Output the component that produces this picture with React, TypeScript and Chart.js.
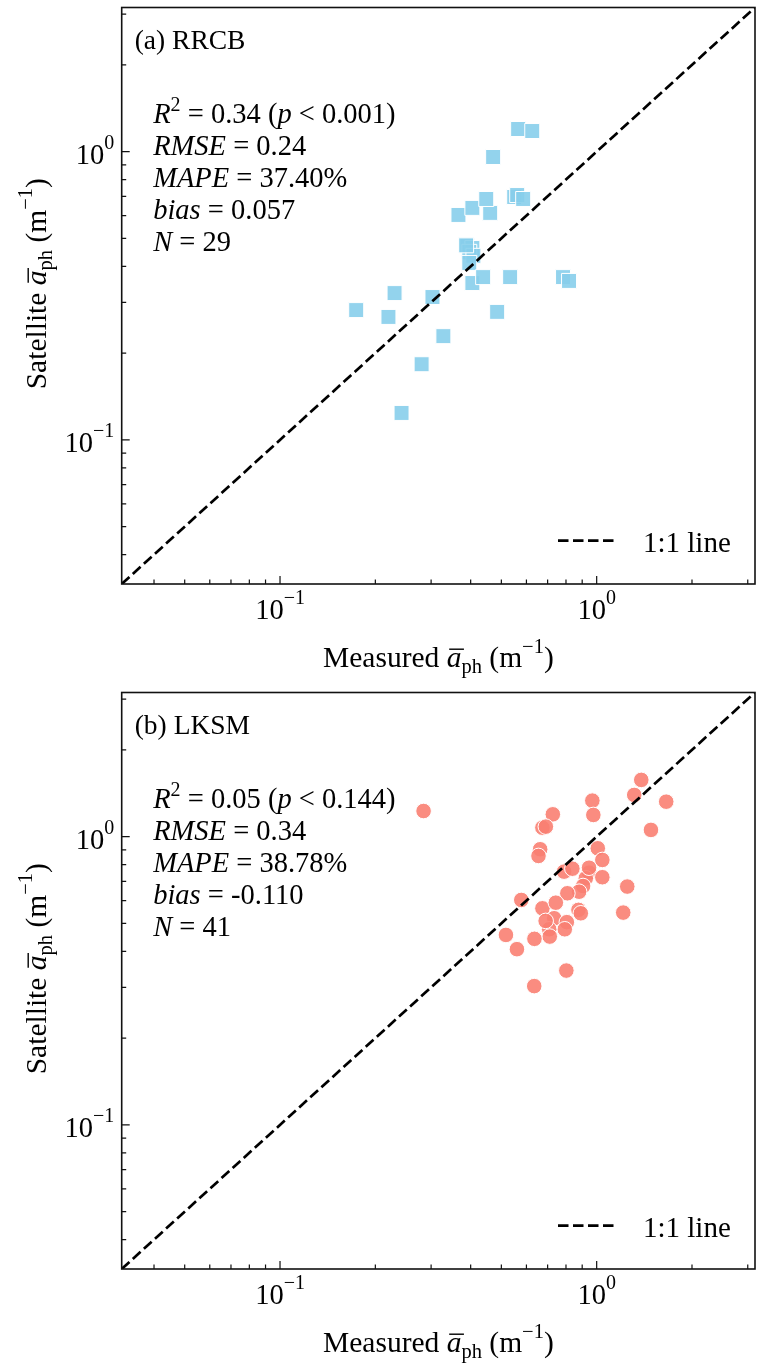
import React, { useEffect, useRef } from 'react';
import { Chart, registerables } from 'chart.js';

Chart.register(...registerables);

// ---------- data ----------
const AXIS_MIN = 0.0316228; // 10^-1.5
const AXIS_MAX = 3.16228; // 10^0.5

const MAJOR_TICKS = [0.1, 1];
const MAJOR_TICK_EXPONENTS = ['\u22121', '0'];
const MINOR_TICKS = [0.04, 0.05, 0.06, 0.07, 0.08, 0.09, 0.2, 0.3, 0.4, 0.5, 0.6, 0.7, 0.8, 0.9, 2, 3];

const rrcbMeasured = [
  0.174, 0.220, 0.230, 0.303, 0.328, 0.280, 0.242, 0.485, 0.366, 0.405,
  0.461, 0.448, 0.471, 0.565, 0.626, 0.549, 0.561, 0.586, 0.390, 0.405,
  0.396, 0.408, 0.396, 0.405, 0.438, 0.533, 0.783, 0.818, 0.387,
];
const rrcbSatellite = [
  0.282, 0.267, 0.323, 0.313, 0.229, 0.183, 0.124, 0.278, 0.603, 0.638,
  0.613, 0.685, 0.958, 1.198, 1.179, 0.696, 0.707, 0.685, 0.471, 0.463,
  0.449, 0.435, 0.411, 0.350, 0.367, 0.367, 0.367, 0.356, 0.473,
];

const lksmMeasured = [
  0.284, 1.383, 1.314, 1.658, 0.969, 0.976, 0.727, 0.674, 0.691, 1.484,
  0.663, 0.655, 1.008, 1.042, 0.789, 0.838, 0.946, 0.924, 1.042, 0.906,
  0.880, 1.249, 0.808, 0.578, 0.674, 0.743, 0.876, 0.891, 1.213, 0.734,
  0.805, 0.793, 0.708, 0.711, 0.517, 0.636, 0.560, 0.802, 0.635, 0.690,
  0.946,
];
const lksmSatellite = [
  1.227, 1.573, 1.395, 1.322, 1.333, 1.189, 1.195, 1.074, 1.083, 1.055,
  0.904, 0.857, 0.911, 0.830, 0.756, 0.774, 0.750, 0.717, 0.723, 0.674,
  0.644, 0.671, 0.636, 0.603, 0.564, 0.590, 0.557, 0.542, 0.545, 0.521,
  0.505, 0.477, 0.477, 0.450, 0.456, 0.442, 0.407, 0.343, 0.303, 0.510,
  0.780,
];

const STAT_NAMES = ['R', 'RMSE', 'MAPE', 'bias', 'N'];
const rrcbStatValues = ['0.34', '0.001', '0.24', '37.40%', '0.057', '29'];
const lksmStatValues = ['0.05', '0.144', '0.34', '38.78%', '-0.110', '41'];

const PANEL_TITLES = ['(a) RRCB', '(b) LKSM'];
const LEGEND_LABEL = '1:1 line';

// ---------- styling ----------
const FONT_FAMILY = '"Liberation Serif", "Times New Roman", Times, serif';
const BASE = 28.5;

type Run = { t: string; it?: boolean; s?: number; dy?: number; bar?: number };

function fontOf(r: Run, base: number) {
  return `${r.it ? 'italic ' : ''}${r.s ?? base}px ${FONT_FAMILY}`;
}
function measureRuns(ctx: CanvasRenderingContext2D, runs: Run[], base = BASE) {
  let w = 0;
  for (const r of runs) {
    ctx.font = fontOf(r, base);
    w += ctx.measureText(r.t).width;
  }
  return w;
}
function drawRuns(ctx: CanvasRenderingContext2D, runs: Run[], x: number, y: number, base = BASE) {
  let cx = x;
  for (const r of runs) {
    ctx.font = fontOf(r, base);
    ctx.fillText(r.t, cx, y + (r.dy ?? 0));
    const w = ctx.measureText(r.t).width;
    if (r.bar) {
      ctx.fillRect(cx + 2.5, y - r.bar, w, 1.4);
    }
    cx += w;
  }
}

function statRuns(values: string[]): Run[][] {
  return [
    [{ t: STAT_NAMES[0], it: true }, { t: '2', s: 20, dy: -12 }, { t: ' = ' + values[0] + ' (' }, { t: 'p', it: true }, { t: ' < ' + values[1] + ')' }],
    [{ t: STAT_NAMES[1], it: true }, { t: ' = ' + values[2] }],
    [{ t: STAT_NAMES[2], it: true }, { t: ' = ' + values[3] }],
    [{ t: STAT_NAMES[3], it: true }, { t: ' = ' + values[4] }],
    [{ t: STAT_NAMES[4], it: true }, { t: ' = ' + values[5] }],
  ];
}

const TITLE_SIZE = 29.5;
const xTitleRuns: Run[] = [
  { t: 'Measured ' }, { t: 'a', it: true, bar: 18.5 }, { t: 'ph', s: 20.5, dy: 5.5 },
  { t: ' (m' }, { t: '\u22121', s: 20.5, dy: -14 }, { t: ')' },
];
const yTitleRuns: Run[] = [
  { t: 'Satellite ' }, { t: 'a', it: true, bar: 18.5 }, { t: 'ph', s: 20.5, dy: 5.5 },
  { t: ' (m' }, { t: '\u22121', s: 20.5, dy: -14 }, { t: ')' },
];

type PanelDef = {
  key: string;
  title: string;
  measured: number[];
  satellite: number[];
  stats: string[];
  pointStyle: string;
  radius: number;
  color: string;
};

const PANELS: PanelDef[] = [
  { key: 'a', title: PANEL_TITLES[0], measured: rrcbMeasured, satellite: rrcbSatellite, stats: rrcbStatValues, pointStyle: 'rect', radius: 10.6, color: 'rgba(135,206,235,0.9)' },
  { key: 'b', title: PANEL_TITLES[1], measured: lksmMeasured, satellite: lksmSatellite, stats: lksmStatValues, pointStyle: 'circle', radius: 7.8, color: 'rgba(250,128,114,0.9)' },
];

function decorPlugin(p: PanelDef) {
  return {
    id: 'decor_' + p.key,
    afterDraw(chart: any) {
      const ctx: CanvasRenderingContext2D = chart.ctx;
      const { left, right, top, bottom } = chart.chartArea;
      const xs = chart.scales.x;
      const ys = chart.scales.y;
      ctx.save();
      ctx.fillStyle = '#000';
      ctx.strokeStyle = '#111';
      ctx.textBaseline = 'alphabetic';
      ctx.textAlign = 'left';

      // inward ticks
      ctx.lineWidth = 1.2;
      ctx.beginPath();
      const tick = (v: number, len: number) => {
        const px = xs.getPixelForValue(v);
        ctx.moveTo(px, bottom);
        ctx.lineTo(px, bottom - len);
        const py = ys.getPixelForValue(v);
        ctx.moveTo(left, py);
        ctx.lineTo(left + len, py);
      };
      MAJOR_TICKS.forEach((v) => tick(v, 8));
      MINOR_TICKS.forEach((v) => tick(v, 4.5));
      ctx.stroke();

      // frame
      ctx.lineWidth = 1.6;
      ctx.strokeRect(left, top, right - left, bottom - top);

      // tick labels
      MAJOR_TICKS.forEach((v, i) => {
        const runs: Run[] = [{ t: '10' }, { t: MAJOR_TICK_EXPONENTS[i], s: 20, dy: -15.5 }];
        const w = measureRuns(ctx, runs, 28.5);
        const px = xs.getPixelForValue(v);
        drawRuns(ctx, runs, px - w / 2, bottom + 35, 28.5);
        const py = ys.getPixelForValue(v);
        drawRuns(ctx, runs, left - 7.5 - w, py + 12.5, 28.5);
      });

      // axis titles
      const xw = measureRuns(ctx, xTitleRuns, TITLE_SIZE);
      drawRuns(ctx, xTitleRuns, (left + right) / 2 - xw / 2, bottom + 83, TITLE_SIZE);
      ctx.save();
      ctx.translate(46, (top + bottom) / 2 - 12);
      ctx.rotate(-Math.PI / 2);
      const yw = measureRuns(ctx, yTitleRuns, TITLE_SIZE);
      drawRuns(ctx, yTitleRuns, -yw / 2, 0, TITLE_SIZE);
      ctx.restore();

      // panel title
      drawRuns(ctx, [{ t: p.title }], left + 13, top + 41.5, 27.5);

      // statistics
      statRuns(p.stats).forEach((runs, i) => {
        drawRuns(ctx, runs, left + 31.5, top + 115 + i * 32, BASE);
      });

      // legend
      ctx.strokeStyle = '#000';
      ctx.lineWidth = 2.7;
      ctx.setLineDash([10.5, 4.5]);
      ctx.beginPath();
      ctx.moveTo(right - 197, bottom - 43.3);
      ctx.lineTo(right - 138, bottom - 43.3);
      ctx.stroke();
      ctx.setLineDash([]);
      drawRuns(ctx, [{ t: LEGEND_LABEL }], right - 112, bottom - 32.3, 29);

      ctx.restore();
    },
  };
}

function Panel({ def, top, height }: { def: PanelDef; top: number; height: number }) {
  const ref = useRef<HTMLCanvasElement | null>(null);
  useEffect(() => {
    if (!ref.current) return;
    const points = def.measured.map((x, i) => ({ x, y: def.satellite[i] }));
    const chart = new Chart(ref.current, {
      type: 'scatter',
      data: {
        datasets: [
          {
            type: 'line',
            label: LEGEND_LABEL,
            data: [{ x: AXIS_MIN, y: AXIS_MIN }, { x: AXIS_MAX, y: AXIS_MAX }],
            borderColor: '#000',
            borderWidth: 2.7,
            borderDash: [10.5, 4.5],
            pointRadius: 0,
            showLine: true,
            fill: false,
            order: 0,
          } as any,
          {
            label: def.title,
            data: points,
            pointStyle: def.pointStyle as any,
            pointRadius: def.radius,
            pointHoverRadius: def.radius,
            backgroundColor: def.color,
            borderColor: '#ffffff',
            borderWidth: 1,
            order: 1,
          } as any,
        ],
      },
      options: {
        animation: false,
        responsive: false,
        maintainAspectRatio: false,
        events: [],
        layout: { autoPadding: false, padding: { top: 7.5, right: 5, left: 0, bottom: 0 } },
        plugins: { legend: { display: false }, tooltip: { enabled: false }, title: { display: false } },
        scales: {
          x: {
            type: 'logarithmic',
            bounds: 'data',
            min: AXIS_MIN,
            max: AXIS_MAX,
            grid: { display: false },
            border: { display: false },
            ticks: { display: false },
            afterFit: (s: any) => { s.height = height - 584; },
          },
          y: {
            type: 'logarithmic',
            bounds: 'data',
            min: AXIS_MIN,
            max: AXIS_MAX,
            grid: { display: false },
            border: { display: false },
            ticks: { display: false },
            afterFit: (s: any) => { s.width = 121.7; },
          },
        },
      } as any,
      plugins: [decorPlugin(def)],
    });
    return () => chart.destroy();
  }, [def, height]);
  return (
    <canvas
      ref={ref}
      width={760}
      height={height}
      style={{ position: 'absolute', left: 0, top, width: 760, height, display: 'block' }}
    />
  );
}

export default function App() {
  return (
    <div style={{ position: 'absolute', left: 0, top: 0, width: 760, height: 1369, overflow: 'hidden', background: '#fff' }}>
      <Panel def={PANELS[0]} top={0} height={685} />
      <Panel def={PANELS[1]} top={685} height={684} />
    </div>
  );
}
